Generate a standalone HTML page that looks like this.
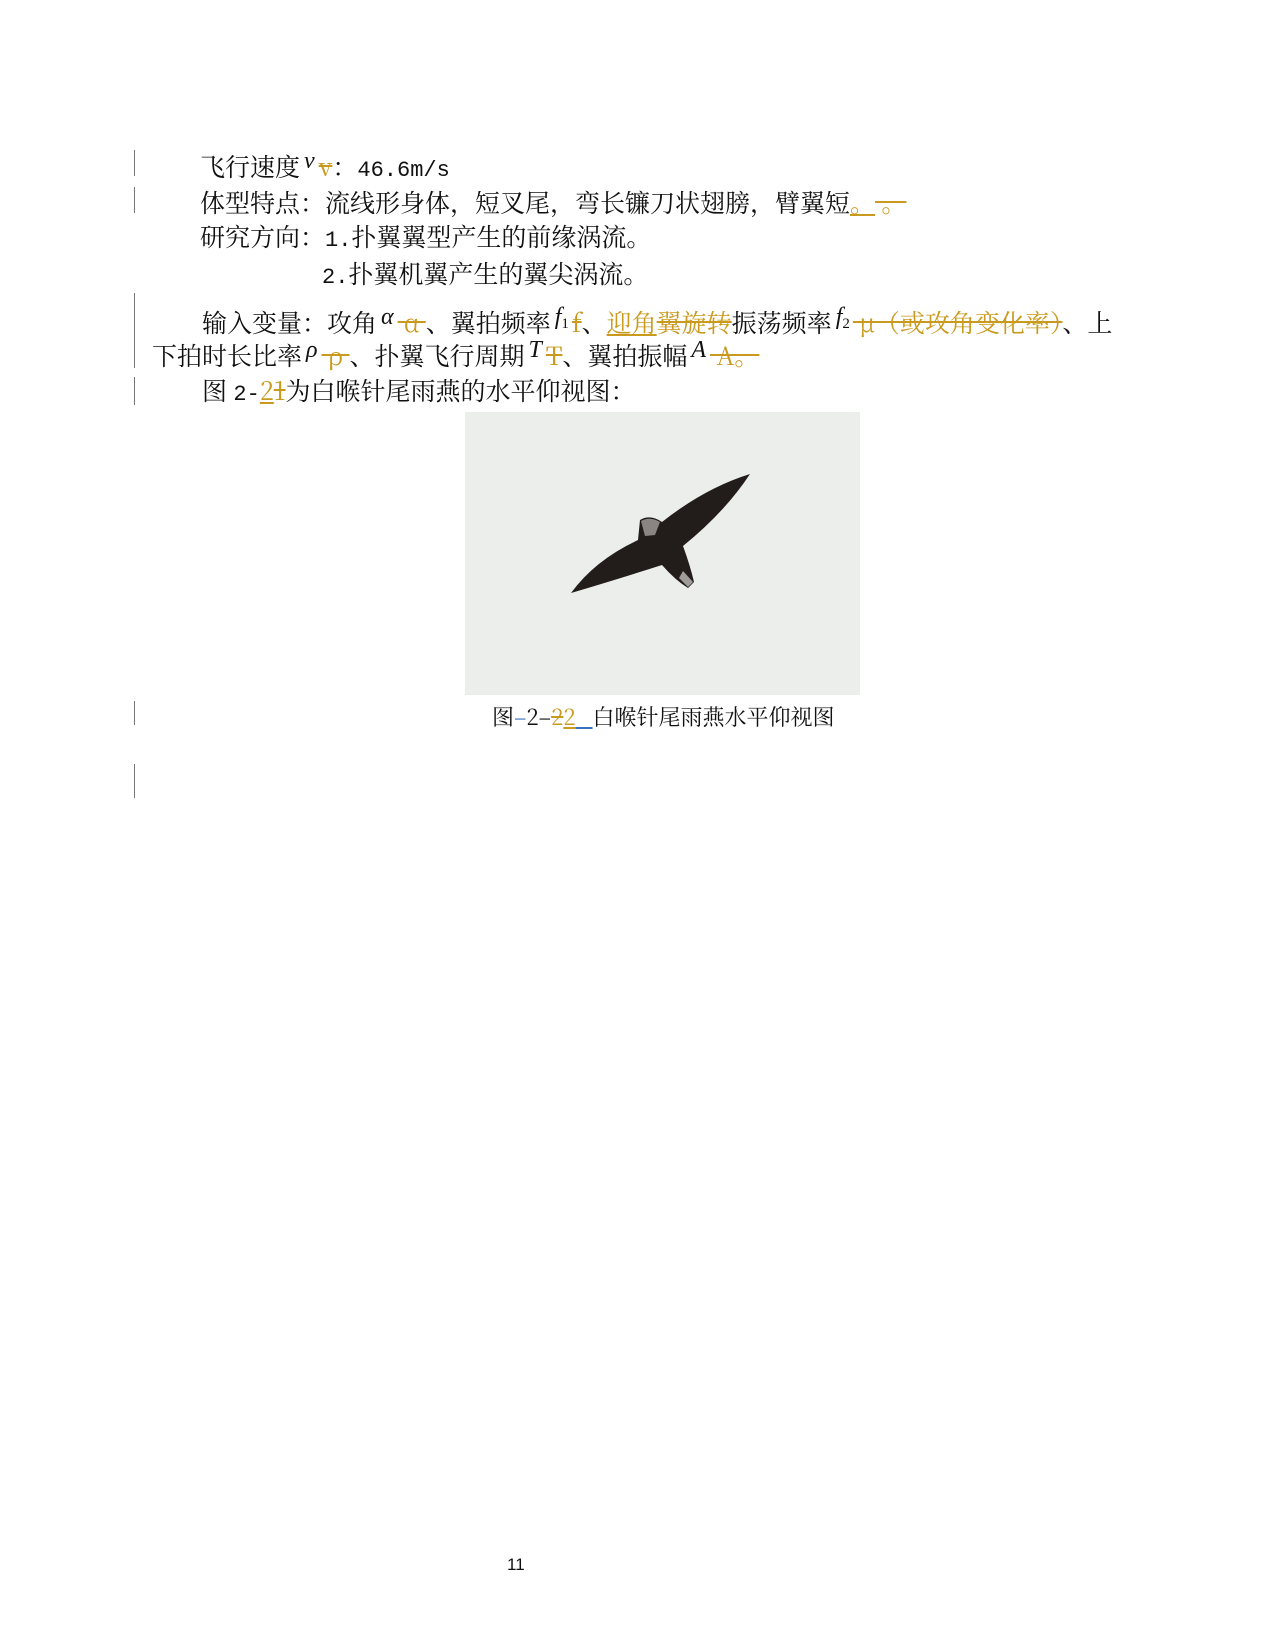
<!DOCTYPE html>
<html><head><meta charset="utf-8"><style>
body{margin:0;background:#fff;}
.pg{position:relative;width:1275px;height:1650px;overflow:hidden;font-family:"Noto Serif CJK SC","Liberation Serif",serif;color:#111;}
.l{position:absolute;font-size:25px;line-height:30px;white-space:nowrap;}
.o{color:#c99a1e;}
.s{text-decoration:line-through;text-decoration-color:#c99a1e;}
.u{text-decoration:underline;text-decoration-color:#c99a1e;}
.m{font-family:"Liberation Serif",serif;font-style:italic;font-size:24px;position:relative;top:-8px;margin:0 4px 0 4px;}
.sub{font-family:"Liberation Serif",serif;font-size:15px;margin-right:3px;}
.mono{font-family:"Liberation Mono",monospace;font-size:22px;}
.bar{position:absolute;left:134px;width:1px;background:#777;}
</style></head><body><div class="pg">
<div class="bar" style="top:150px;height:26px"></div>
<div class="bar" style="top:187px;height:26px"></div>
<div class="bar" style="top:293px;height:75px"></div>
<div class="bar" style="top:377px;height:28px"></div>
<div class="bar" style="top:701px;height:24px"></div>
<div class="bar" style="top:764px;height:34px"></div>

<div class="l" style="left:200px;top:151px">飞行速度<span class="m">v</span><span class="o s">v</span>：<span class="mono">46.6m/s</span></div>
<div class="l" style="left:200px;top:187px">体型特点：流线形身体，短叉尾，弯长镰刀状翅膀，臂翼短<span class="o u">。</span><span class="o s">&nbsp;。</span></div>
<div class="l" style="left:200px;top:221px">研究方向：<span class="mono">1.</span>扑翼翼型产生的前缘涡流。</div>
<div class="l" style="left:322px;top:258px"><span class="mono">2.</span>扑翼机翼产生的翼尖涡流。</div>
<div class="l" style="left:202px;top:307px">输入变量：攻角<span class="m">α</span><span class="o s">&nbsp;α&nbsp;</span>、翼拍频率<span class="m" style="margin-right:0">f</span><span class="sub" style="position:relative;top:-4px">1</span><span class="o s">f</span>、<span class="o u">迎角</span><span class="o s">翼旋转</span>振荡频率<span class="m" style="margin-right:0">f</span><span class="sub" style="position:relative;top:-4px">2</span><span class="o s">&nbsp;μ（或攻角变化率）</span>、上</div>
<div class="l" style="left:152px;top:340px">下拍时长比率<span class="m">ρ</span><span class="o s">&nbsp;ρ&nbsp;</span>、扑翼飞行周期<span class="m">T</span><span class="o s">T</span>、翼拍振幅<span class="m">A</span><span class="o s">&nbsp;A。</span></div>
<div class="l" style="left:202px;top:375px">图 <span class="mono">2-</span><span class="o u">2</span><span class="o s">1</span>为白喉针尾雨燕的水平仰视图：</div>

<svg style="position:absolute;left:0;top:0" width="1275" height="1650">
<rect x="465" y="412" width="395" height="283" fill="#eceeec"/>
<path d="M571,593 Q595,560 638,540 L640,520 Q650,514 662,522 Q705,488 750,474 Q725,512 683,546 Q690,565 694,582 L688,588 Q675,580 662,565 Q615,580 571,593 Z" fill="#221d1b"/>
<path d="M641,521 Q650,516 660,522 L655,535 L645,536 Z" fill="#8a8582"/>
<path d="M683,571 L693,582 L688,587 L679,578 Z" fill="#a09c98"/>
</svg>

<div class="l" style="left:492px;top:702px;font-size:22px">图<span style="color:#3a6fc0">–</span>2–<span class="o s">2</span><span class="o u">2</span><span style="text-decoration:underline;text-decoration-color:#3a6fc0">&nbsp;&nbsp;&nbsp;</span>白喉针尾雨燕水平仰视图</div>
<div class="l" style="left:507px;top:1550px;font-size:17px;font-family:'Liberation Sans',sans-serif">11</div>
</div></body></html>
